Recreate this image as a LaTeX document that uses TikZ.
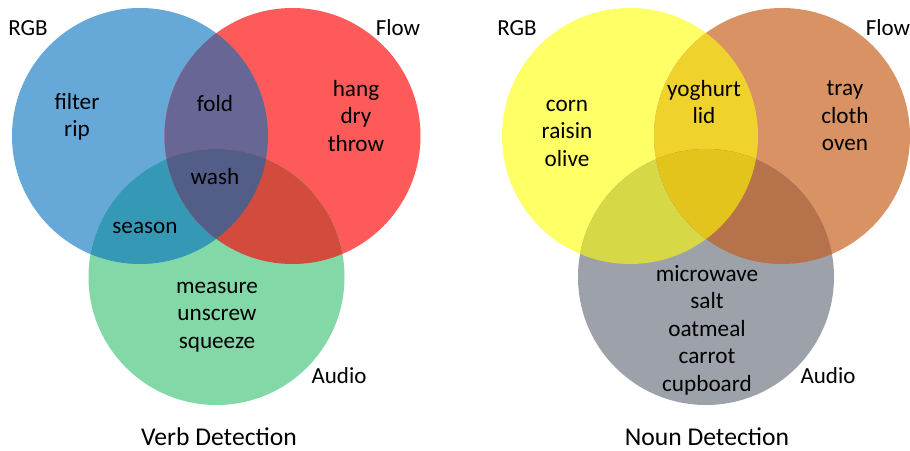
\documentclass[tikz,border=0pt]{standalone}
\usepackage{fontspec}
\setmainfont{Carlito}
\definecolor{cB}{HTML}{66A8D8}
\definecolor{cR}{HTML}{FF5A5A}
\definecolor{cG}{HTML}{83D8A8}
\definecolor{cBR}{HTML}{676694}
\definecolor{cBG}{HTML}{3599B6}
\definecolor{cRG}{HTML}{D24B3C}
\definecolor{cBRG}{HTML}{525E87}
\definecolor{cY}{HTML}{FFFF66}
\definecolor{cO}{HTML}{D99263}
\definecolor{cGy}{HTML}{9DA1AA}
\definecolor{cYO}{HTML}{EFD22C}
\definecolor{cYG}{HTML}{D7D846}
\definecolor{cOG}{HTML}{B6724A}
\definecolor{cYOG}{HTML}{E2C41C}
\tikzset{
  word/.style={align=center, inner sep=0pt, font=\fontsize{23.2}{27.5}\selectfont, text=black},
  setlabel/.style={inner sep=0pt, font=\fontsize{23}{27}\selectfont, text=black},
  title/.style={inner sep=0pt, font=\fontsize{25.6}{30}\selectfont, text=black},
}
\begin{document}
\begin{tikzpicture}[x=1pt,y=-1pt]
\useasboundingbox (0,0) rectangle (910,450);
\def\r{128pt}
% ---------- left: verb ----------
\coordinate (b) at (140,136);
\coordinate (rd) at (292.5,136);
\coordinate (g) at (216.5,277);
\fill[cB] (b) circle[radius=\r];
\fill[cR] (rd) circle[radius=\r];
\fill[cG] (g) circle[radius=\r];
\begin{scope}\clip (b) circle[radius=\r]; \fill[cBR] (rd) circle[radius=\r];\end{scope}
\begin{scope}\clip (b) circle[radius=\r]; \fill[cBG] (g) circle[radius=\r];\end{scope}
\begin{scope}\clip (rd) circle[radius=\r]; \fill[cRG] (g) circle[radius=\r];\end{scope}
\begin{scope}\clip (b) circle[radius=\r]; \clip (rd) circle[radius=\r]; \fill[cBRG] (g) circle[radius=\r];\end{scope}
\node[setlabel] (lrgb) at (28,28) {RGB};
\node[setlabel] (lflow) at (398,28) {Flow};
\node[setlabel] (laudio) at (339,376) {Audio};
\node[word] (lw1) at (77,117) {filter\\rip};
\node[word] (lw2) at (215,104) {fold};
\node[word] (lw3) at (356,116) {hang\\dry\\throw};
\node[word] (lw4) at (215,177) {wash};
\node[word] (lw5) at (145,228) {season};
\node[word] (lw6) at (217,317) {measure\\unscrew\\squeeze};
\node[title] (lt) at (219,437) {Verb Detection};
% ---------- right: noun ----------
\coordinate (y) at (630,136);
\coordinate (o) at (782,136);
\coordinate (gy) at (706,277);
\fill[cY] (y) circle[radius=\r];
\fill[cO] (o) circle[radius=\r];
\fill[cGy] (gy) circle[radius=\r];
\begin{scope}\clip (y) circle[radius=\r]; \fill[cYO] (o) circle[radius=\r];\end{scope}
\begin{scope}\clip (y) circle[radius=\r]; \fill[cYG] (gy) circle[radius=\r];\end{scope}
\begin{scope}\clip (o) circle[radius=\r]; \fill[cOG] (gy) circle[radius=\r];\end{scope}
\begin{scope}\clip (y) circle[radius=\r]; \clip (o) circle[radius=\r]; \fill[cYOG] (gy) circle[radius=\r];\end{scope}
\node[setlabel] (rrgb) at (517,28) {RGB};
\node[setlabel] (rflow) at (888,28) {Flow};
\node[setlabel] (raudio) at (828,376) {Audio};
\node[word] (rw1) at (567,133) {corn\\raisin\\olive};
\node[word] (rw2) at (704,102) {yoghurt\\lid};
\node[word] (rw3) at (845,116) {tray\\cloth\\oven};
\node[word] (rw4) at (707,330) {microwave\\salt\\oatmeal\\carrot\\cupboard};
\node[title] (rt) at (707,437) {Noun Detection};
\end{tikzpicture}
\end{document}
